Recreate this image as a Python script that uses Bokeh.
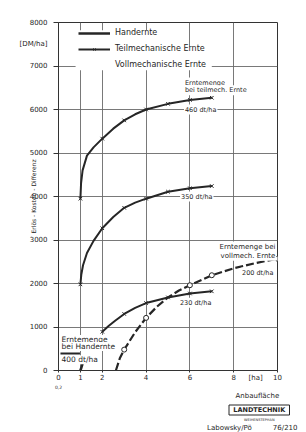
from bokeh.plotting import figure
from bokeh.models import (FixedTicker, Label, Legend, LegendItem, BoxAnnotation, Range1d,
                          LinearAxis, Title)
from bokeh.embed import file_html
from bokeh.resources import INLINE

# ---------------- data ----------------
x_ticks = [0, 1, 2, 4, 6, 8, 10]
x_label_ticks = [0, 1, 2, 4, 6, 8, 9, 10]
x_label_text = {9: "[ha]"}
y_ticks = [0, 1000, 2000, 3000, 4000, 5000, 6000, 7000, 8000]
y_label_ticks = y_ticks + [7500]
y_label_text = {7500: "[DM/ha]"}

# Teilmechanische Ernte, 460 dt/ha
t460_x = [1, 1.03, 1.1, 1.3, 1.6, 2, 2.5, 3, 3.5, 4, 5, 6, 7]
t460_y = [3950, 4300, 4600, 4940, 5130, 5330, 5560, 5750, 5890, 6000, 6130, 6220, 6270]
t460_mx = [1, 2, 3, 4, 5, 6, 7]
t460_my = [3950, 5330, 5750, 6000, 6130, 6220, 6270]

# Teilmechanische Ernte, 350 dt/ha
t350_x = [1, 1.04, 1.12, 1.3, 1.6, 2, 2.5, 3, 3.5, 4, 5, 6, 7]
t350_y = [1980, 2200, 2420, 2700, 2980, 3270, 3530, 3740, 3860, 3950, 4110, 4190, 4240]
t350_mx = [1, 2, 3, 4, 5, 6, 7]
t350_my = [1980, 3270, 3740, 3950, 4110, 4190, 4240]

# Teilmechanische Ernte, 230 dt/ha
t230_x = [2, 2.3, 2.6, 3, 3.5, 4, 5, 6, 7]
t230_y = [890, 1030, 1150, 1300, 1440, 1550, 1680, 1770, 1820]
t230_mx = [2, 3, 4, 5, 6, 7]
t230_my = [890, 1300, 1550, 1680, 1770, 1820]

# Vollmechanische Ernte, 200 dt/ha
v200_x = [2.62, 2.8, 3, 3.5, 4, 4.5, 5, 5.5, 6, 7, 8, 9, 10]
v200_y = [0, 280, 480, 880, 1210, 1470, 1680, 1840, 1960, 2190, 2350, 2470, 2570]
v200_mx = [3, 4, 6, 7, 10]
v200_my = [480, 1210, 1960, 2190, 2570]

# Handernte, 400 dt/ha
h400_x = [1.0, 1.1]
h400_y = [0, 150]

INK = "#262626"
GRID = "#6a6a6a"
FONT = "DejaVu Sans"

p = figure(width=306, height=432, x_range=Range1d(0, 10), y_range=Range1d(0, 8000),
           output_backend="svg", toolbar_location=None,
           min_border_left=58, min_border_right=29, min_border_top=22, min_border_bottom=62,
           background_fill_color="white", border_fill_color="white")

p.outline_line_color = "#333333"
p.outline_line_width = 1

p.xgrid.ticker = FixedTicker(ticks=x_ticks)
p.ygrid.ticker = FixedTicker(ticks=y_ticks)
for g in (p.xgrid, p.ygrid):
    g.grid_line_color = GRID
    g.grid_line_width = 0.9
    g.grid_line_alpha = 1

p.xaxis.ticker = FixedTicker(ticks=x_label_ticks, minor_ticks=x_ticks)
p.xaxis.major_label_overrides = x_label_text
p.yaxis.ticker = FixedTicker(ticks=y_label_ticks, minor_ticks=y_ticks)
p.yaxis.major_label_overrides = y_label_text

for ax in (p.xaxis, p.yaxis):
    ax.axis_line_color = "#333333"
    ax.major_tick_line_color = None
    ax.major_tick_out = 0
    ax.major_tick_in = 0
    ax.minor_tick_line_color = "#333333"
    ax.minor_tick_in = 0
    ax.major_label_text_font = FONT
    ax.major_label_text_font_size = "7px"
    ax.major_label_text_color = INK
p.xaxis.minor_tick_out = 2
p.yaxis.minor_tick_out = 5
p.xaxis.major_label_standoff = 1
p.yaxis.major_label_standoff = 6
p.yaxis.axis_label = "Erlös - Kosten - Differenz"
p.yaxis.axis_label_text_font = FONT
p.yaxis.axis_label_text_font_size = "6px"
p.yaxis.axis_label_text_font_style = "normal"
p.yaxis.axis_label_text_color = INK
p.yaxis.axis_label_standoff = -20

# small "0,2" under the zero of the x axis
p.xaxis.axis_label = "0,2"
p.xaxis.axis_label_align = "start"
p.xaxis.axis_label_text_font = FONT
p.xaxis.axis_label_text_font_size = "4.5px"
p.xaxis.axis_label_text_font_style = "normal"
p.xaxis.axis_label_text_color = INK
p.xaxis.axis_label_standoff = 0

# second row under the x axis: "Anbaufläche"
ax2 = LinearAxis(ticker=FixedTicker(ticks=[9.08]), major_label_overrides={9.08: "Anbaufläche"},
                 axis_line_color=None, major_tick_line_color=None, minor_tick_line_color=None,
                 major_tick_out=0, major_tick_in=0, major_label_standoff=0,
                 major_label_text_font=FONT, major_label_text_font_size="7px",
                 major_label_text_color=INK)
p.add_layout(ax2, "below")

# white ground behind the legend (hides the grid there, as in the original)
p.add_layout(BoxAnnotation(left=0.78, right=5.2, top=7820, bottom=6900,
                           fill_color="white", fill_alpha=1, line_alpha=0))
p.add_layout(BoxAnnotation(left=5.2, right=7.0, top=7450, bottom=6900,
                           fill_color="white", fill_alpha=1, line_alpha=0))

# curves
r_h = p.line(h400_x, h400_y, line_width=2.5, color=INK)
r_t1 = p.line(t460_x, t460_y, line_width=2, color=INK)
r_t1m = p.scatter(t460_mx, t460_my, marker="x", size=5, line_width=1, color=INK)
p.line(t350_x, t350_y, line_width=2, color=INK)
p.scatter(t350_mx, t350_my, marker="x", size=5, line_width=1, color=INK)
p.line(t230_x, t230_y, line_width=2, color=INK)
p.scatter(t230_mx, t230_my, marker="x", size=5, line_width=1, color=INK)
p.line(v200_x, v200_y, line_width=2.2, color=INK, line_dash="8 3")
p.scatter(v200_mx, v200_my, marker="circle", size=5, line_width=1, color=INK, fill_color="white")

# legend-only renderers (solid sample with circles)
r_v_line = p.line([], [], line_width=2, color=INK)
r_v_mark = p.scatter([], [], marker="circle", size=5, line_width=1, color=INK, fill_color="white")

legend = Legend(items=[
    LegendItem(label="Handernte", renderers=[r_h]),
    LegendItem(label="Teilmechanische Ernte", renderers=[r_t1, r_t1m]),
    LegendItem(label="Vollmechanische Ernte", renderers=[r_v_line, r_v_mark]),
], location=(17, 298), label_text_font=FONT, label_text_font_size="8px",
    label_text_color=INK, label_height=8, glyph_height=8, glyph_width=32,
    spacing=7, padding=3, margin=0, label_standoff=5,
    border_line_alpha=0, background_fill_alpha=0, level="overlay")
p.add_layout(legend)


def lab(text, x, y, size="6.5px", align="left", pad=1):
    p.add_layout(Label(x=x, y=y, text=text, text_font=FONT, text_font_size=size,
                       text_align=align, text_baseline="middle", text_color=INK,
                       background_fill_color="white", background_fill_alpha=1,
                       padding=pad))


lab("Erntemenge", 5.73, 6620)
lab("bei teilmech. Ernte", 5.73, 6440)
lab("460 dt/ha", 5.73, 6000)
lab("350 dt/ha", 5.55, 4000)
lab("230 dt/ha", 5.5, 1560)
lab("Erntemenge bei", 9.95, 2850, size="7px", align="right")
lab("vollmech. Ernte", 9.95, 2640, size="7px", align="right")
lab("200 dt/ha", 9.86, 2250, align="right")
lab("Erntemenge", 0.14, 710, size="7.5px", pad=0)
lab("bei Handernte", 0.14, 550, size="7.5px", pad=0)
lab("400 dt/ha", 0.14, 250, size="7.5px", pad=0)
p.add_layout(BoxAnnotation(left=0.09, right=0.98, bottom=370, top=415,
                           fill_color=INK, fill_alpha=1, line_alpha=0))

# texts under the chart
p.add_layout(Title(text="\u2002LANDTECHNIK\u2002", align="right", offset=-12, standoff=1,
                   text_font=FONT, text_font_size="6.5px", text_font_style="bold",
                   text_color=INK, border_line_color=INK, border_line_width=1,
                   padding=1), "below")
p.add_layout(Title(text="WEIHENSTEPHAN", align="right", offset=3, standoff=0,
                   text_font=FONT, text_font_size="3.5px", text_font_style="normal",
                   text_color=INK), "below")
p.add_layout(Title(text="Labowsky/Pö\u2003\u2003\u200376/210", align="right", offset=-20,
                   standoff=0, text_font=FONT, text_font_size="7px",
                   text_font_style="normal", text_color=INK), "below")

open("out.html", "w").write(file_html(p, INLINE))
